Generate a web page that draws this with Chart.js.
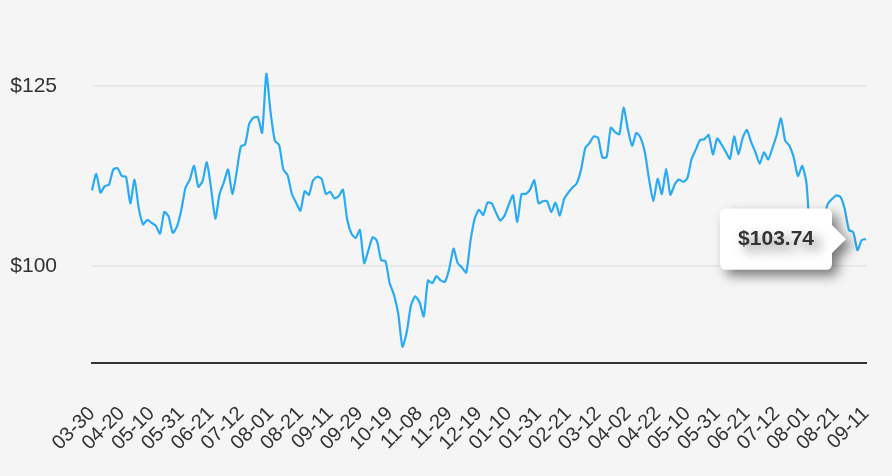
<!DOCTYPE html>
<html>
<head>
<meta charset="utf-8">
<script src="https://cdn.jsdelivr.net/npm/chart.js@4.4.1/dist/chart.umd.min.js"></script>
<style>
  html, body { margin: 0; padding: 0; background: #f5f5f5; }
  #wrap { width: 892px; height: 476px; }
</style>
</head>
<body>
<div id="wrap"><canvas id="price-chart"></canvas></div>
<script>
// one value every other trading day
const prices = [
  110.5, 112.8, 110.2, 111.1, 111.3, 113.4, 113.6, 112.5, 112.4, 108.7,
  112.0, 108.0, 105.8, 106.4, 106.0, 105.6, 104.5, 107.5, 106.9, 104.6,
  105.5, 107.8, 110.9, 112.0, 113.9, 111.0, 111.8, 114.4, 110.8, 106.6,
  110.0, 111.6, 113.4, 110.0, 113.0, 116.6, 116.9, 119.8, 120.6, 120.7,
  118.5, 126.7, 121.3, 117.4, 116.8, 113.4, 112.6, 110.0, 108.8, 107.7,
  110.4, 109.9, 111.9, 112.4, 112.1, 110.0, 110.3, 109.4, 109.7, 110.6,
  106.5, 104.5, 103.9, 105.0, 100.4, 102.2, 104.0, 103.5, 100.8, 100.7,
  97.6, 96.0, 93.4, 88.8, 90.8, 94.5, 95.8, 95.0, 93.0, 98.0,
  97.6, 98.6, 98.0, 97.8, 99.6, 102.4, 100.4, 99.8, 99.1, 103.5,
  106.6, 107.8, 107.1, 108.8, 108.7, 107.4, 106.3, 107.0, 108.5, 109.8,
  106.1, 110.0, 110.0, 110.6, 111.9, 108.7, 109.0, 109.0, 107.5, 108.8,
  107.0, 109.3, 110.2, 110.9, 111.5, 113.4, 116.4, 117.1, 118.0, 117.8,
  115.1, 115.1, 119.2, 118.6, 118.3, 122.0, 119.0, 116.7, 118.5, 117.8,
  115.8, 112.0, 109.0, 112.1, 110.0, 113.5, 109.9, 111.3, 112.0, 111.7,
  112.2, 114.9, 116.2, 117.5, 117.6, 118.2, 115.5, 117.7, 116.9, 115.9,
  114.9, 118.0, 115.5, 117.8, 118.9, 117.2, 115.8, 114.2, 115.8, 114.8,
  116.4, 118.2, 120.5, 117.4, 116.7, 115.1, 112.5, 113.9, 111.5, 103.5,
  102.5, 104.0, 106.5, 108.6, 109.3, 109.8, 109.6, 107.9, 105.0, 104.7,
  102.2, 103.6, 103.74
]
const tickLabels = [
  '03-30', '04-20', '05-10', '05-31', '06-21', '07-12', '08-01', '08-21', '09-11',
  '09-29', '10-19', '11-08', '11-29', '12-19', '01-10', '01-31', '02-21', '03-12',
  '04-02', '04-22', '05-10', '05-31', '06-21', '07-12', '08-01', '08-21', '09-11'
]
const yTicks = [100, 125]
const labelEvery = 7

const categories = prices.map((p, i) => i)
const font = '"Liberation Sans", Arial, sans-serif'

// soft drop shadow under the tooltip box
const tooltipShadow = {
  id: 'tooltipShadow',
  beforeTooltipDraw(chart) {
    const ctx = chart.ctx
    ctx.save()
    ctx.shadowColor = 'rgba(0, 0, 0, 0.5)'
    ctx.shadowBlur = 12
    ctx.shadowOffsetX = 6
    ctx.shadowOffsetY = 6
  },
  afterTooltipDraw(chart) {
    chart.ctx.restore()
  }
}

const ctx = document.getElementById('price-chart').getContext('2d')
const priceChart = new Chart(ctx, {
  type: 'line',
  data: {
    labels: categories,
    datasets: [{
      label: 'Price',
      data: prices,
      borderColor: '#2aaaf5',
      borderWidth: 2.2,
      pointRadius: 0,
      pointHoverRadius: 0,
      tension: 0.2,
      fill: false
    }]
  },
  options: {
    responsive: true,
    maintainAspectRatio: false,
    animation: false,
    events: [],
    layout: {
      padding: { left: 0, right: 26, top: 14, bottom: 0 }
    },
    plugins: {
      legend: { display: false },
      tooltip: {
        enabled: true,
        backgroundColor: '#ffffff',
        bodyColor: '#333333',
        bodyFont: { family: font, size: 21, weight: 'bold' },
        padding: { x: 18, y: 18 },
        cornerRadius: 6,
        caretSize: 14,
        caretPadding: 20,
        displayColors: false,
        xAlign: 'right',
        yAlign: 'center',
        callbacks: {
          title: () => '',
          label: (item) => '$' + item.parsed.y.toFixed(2)
        }
      }
    },
    scales: {
      x: {
        grid: { display: false },
        border: { display: true, color: '#333333', width: 2 },
        afterBuildTicks: (scale) => {
          scale.ticks = scale.ticks.filter(t => t.value % labelEvery === 0)
        },
        afterFit: (scale) => {
          scale.paddingLeft = 0
          scale.paddingRight = 0
          scale.height = 113
        },
        ticks: {
          autoSkip: false,
          minRotation: 45,
          maxRotation: 45,
          padding: 31,
          color: '#333333',
          font: { family: font, size: 20 },
          callback: (value) => tickLabels[value / labelEvery]
        }
      },
      y: {
        min: 86.53,
        max: 135.0,
        border: { display: false },
        grid: { color: '#e4e4e4', lineWidth: 1.5, drawTicks: false },
        afterBuildTicks: (scale) => {
          scale.ticks = yTicks.map(v => ({ value: v }))
        },
        afterFit: (scale) => {
          scale.paddingTop = 0
          scale.paddingBottom = 0
          scale.width = 92
        },
        ticks: {
          padding: 35,
          color: '#333333',
          font: { family: font, size: 21 },
          callback: (value) => '$' + value
        }
      }
    }
  },
  plugins: [tooltipShadow]
})

const last = prices.length - 1
const pt = priceChart.getDatasetMeta(0).data[last]
priceChart.tooltip.setActiveElements([{ datasetIndex: 0, index: last }], { x: pt.x, y: pt.y })
priceChart.update()
</script>
</body>
</html>
